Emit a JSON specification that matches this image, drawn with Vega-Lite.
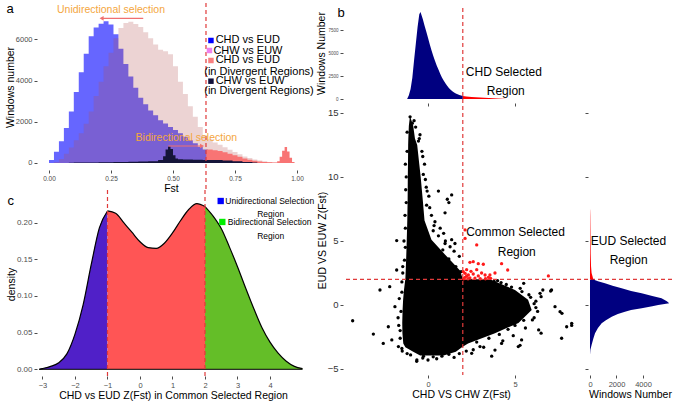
{
"$schema":"https://vega.github.io/schema/vega-lite/v6.json",
"background":"white",
"padding":{"left":5,"top":2,"right":0,"bottom":0},
"config":{"view":{"stroke":null},"font":"Liberation Sans",
 "axis":{"grid":false,"domain":false,"tickColor":"#4d4d4d","tickSize":3,"labelPadding":2,"labelFontSize":7.5,"labelColor":"#4d4d4d","titleFontSize":10.5,"titleFontWeight":"normal","titleColor":"#000000"},
 "text":{"font":"Liberation Sans"}},
"datasets":{
 "fstBlue":[{"f":0.0,"n":150},{"f":0.02,"n":550},{"f":0.04,"n":1050},{"f":0.06,"n":1700},{"f":0.08,"n":2500},{"f":0.10,"n":3450},{"f":0.12,"n":4400},{"f":0.14,"n":5300},{"f":0.16,"n":6150},{"f":0.18,"n":6580},{"f":0.20,"n":6760},{"f":0.22,"n":6880},{"f":0.24,"n":6720},{"f":0.26,"n":6250},{"f":0.28,"n":5550},{"f":0.30,"n":4800},{"f":0.32,"n":4200},{"f":0.34,"n":3650},{"f":0.36,"n":3170},{"f":0.38,"n":2850},{"f":0.40,"n":2550},{"f":0.42,"n":2320},{"f":0.44,"n":2080},{"f":0.46,"n":1920},{"f":0.48,"n":1750},{"f":0.50,"n":1600},{"f":0.52,"n":1440},{"f":0.54,"n":1280},{"f":0.56,"n":1120},{"f":0.58,"n":960},{"f":0.60,"n":790},{"f":0.62,"n":660},{"f":0.64,"n":0}],
 "fstPink":[{"f":0.02,"n":50},{"f":0.04,"n":200},{"f":0.06,"n":450},{"f":0.08,"n":750},{"f":0.10,"n":1100},{"f":0.12,"n":1450},{"f":0.14,"n":1900},{"f":0.16,"n":2500},{"f":0.18,"n":3250},{"f":0.20,"n":3950},{"f":0.22,"n":4700},{"f":0.24,"n":5350},{"f":0.26,"n":6050},{"f":0.28,"n":6550},{"f":0.30,"n":6800},{"f":0.32,"n":6860},{"f":0.34,"n":6750},{"f":0.36,"n":6600},{"f":0.38,"n":6350},{"f":0.40,"n":6050},{"f":0.42,"n":5750},{"f":0.44,"n":5500},{"f":0.46,"n":5420},{"f":0.48,"n":5280},{"f":0.50,"n":4700},{"f":0.52,"n":3950},{"f":0.54,"n":3350},{"f":0.56,"n":2750},{"f":0.58,"n":2250},{"f":0.60,"n":1750},{"f":0.62,"n":1350},{"f":0.64,"n":1150},{"f":0.66,"n":1000},{"f":0.68,"n":880},{"f":0.70,"n":760},{"f":0.72,"n":640},{"f":0.74,"n":530},{"f":0.76,"n":420},{"f":0.78,"n":320},{"f":0.80,"n":240},{"f":0.82,"n":170},{"f":0.84,"n":120},{"f":0.86,"n":80},{"f":0.88,"n":50},{"f":0.90,"n":20},{"f":0.92,"n":0}],
 "fstRed":[{"f":0.634,"n":650},{"f":0.66,"n":620},{"f":0.68,"n":580},{"f":0.70,"n":520},{"f":0.72,"n":450},{"f":0.74,"n":380},{"f":0.76,"n":300},{"f":0.78,"n":220},{"f":0.80,"n":160},{"f":0.82,"n":110},{"f":0.84,"n":75},{"f":0.86,"n":50},{"f":0.88,"n":35},{"f":0.90,"n":30},{"f":0.92,"n":80},{"f":0.93,"n":300},{"f":0.94,"n":600},{"f":0.95,"n":780},{"f":0.96,"n":560},{"f":0.97,"n":250},{"f":0.98,"n":50},{"f":0.99,"n":0}],
 "fstNavy":[{"f":0.08,"n":15},{"f":0.10,"n":20},{"f":0.14,"n":30},{"f":0.20,"n":40},{"f":0.26,"n":50},{"f":0.32,"n":60},{"f":0.36,"n":70},{"f":0.40,"n":90},{"f":0.44,"n":140},{"f":0.46,"n":330},{"f":0.47,"n":650},{"f":0.48,"n":800},{"f":0.49,"n":680},{"f":0.50,"n":380},{"f":0.51,"n":220},{"f":0.52,"n":180},{"f":0.54,"n":170},{"f":0.58,"n":160},{"f":0.62,"n":150},{"f":0.66,"n":140},{"f":0.70,"n":120},{"f":0.74,"n":90},{"f":0.78,"n":50},{"f":0.82,"n":20},{"f":0.84,"n":0}],
 "annA":[{"t":"Unidirectional selection","x":0.25,"y":7430},{"t":"Bidirectional selection","x":0.554,"y":1214}],
 "arrA":[{"x1":0.38,"x2":0.216,"y":7024},{"x1":0.481,"x2":0.612,"y":825}],
 "headA":[{"x":0.212,"y":7024,"d":"L"},{"x":0.617,"y":825,"d":"R"}],
 "sqA":[{"k":"a","x":0.653,"y":5947},{"k":"b","x":0.647,"y":5461},{"k":"c","x":0.653,"y":4976},{"k":"d","x":0.653,"y":3971}],
 "legA":[{"t":"CHD vs EUD","x":0.672,"y":5947},{"t":"CHW vs EUW","x":0.663,"y":5461},{"t":"CHD vs EUD","x":0.672,"y":4976},{"t":"(in Divergent Regions)","x":0.626,"y":4432},{"t":"CHW vs EUW","x":0.672,"y":3971},{"t":"(in Divergent Regions)","x":0.626,"y":3495}],
 "dens":[{"x":-3.1,"d":0,"g":"u"},{"x":-3.0,"d":0.001,"g":"u"},{"x":-2.75,"d":0.004,"g":"u"},{"x":-2.5,"d":0.009,"g":"u"},{"x":-2.25,"d":0.021,"g":"u"},{"x":-2.0,"d":0.048,"g":"u"},{"x":-1.75,"d":0.088,"g":"u"},{"x":-1.5,"d":0.143,"g":"u"},{"x":-1.25,"d":0.193,"g":"u"},{"x":-1.0,"d":0.216,"g":"u"},
  {"x":-1.0,"d":0.216,"g":"m"},{"x":-0.75,"d":0.213,"g":"m"},{"x":-0.5,"d":0.2,"g":"m"},{"x":-0.25,"d":0.187,"g":"m"},{"x":0,"d":0.174,"g":"m"},{"x":0.25,"d":0.166,"g":"m"},{"x":0.5,"d":0.165,"g":"m"},{"x":0.75,"d":0.172,"g":"m"},{"x":1.0,"d":0.186,"g":"m"},{"x":1.25,"d":0.203,"g":"m"},{"x":1.5,"d":0.218,"g":"m"},{"x":1.75,"d":0.226,"g":"m"},{"x":2.0,"d":0.222,"g":"m"},
  {"x":2.0,"d":0.222,"g":"b"},{"x":2.25,"d":0.209,"g":"b"},{"x":2.5,"d":0.192,"g":"b"},{"x":2.75,"d":0.167,"g":"b"},{"x":3.0,"d":0.14,"g":"b"},{"x":3.25,"d":0.111,"g":"b"},{"x":3.5,"d":0.083,"g":"b"},{"x":3.75,"d":0.057,"g":"b"},{"x":4.0,"d":0.037,"g":"b"},{"x":4.25,"d":0.022,"g":"b"},{"x":4.5,"d":0.011,"g":"b"},{"x":4.75,"d":0.004,"g":"b"},{"x":5.0,"d":0.001,"g":"b"}],
 "sqC":[{"k":"U","x":2.483,"y":0.2296},{"k":"B","x":2.533,"y":0.201}],
 "legC":[{"t":"Unidirectional Selection","x":2.625,"y":0.2296},{"t":"Bidirectional Selection","x":2.7,"y":0.201}],
 "legC2":[{"t":"Region","x":4.02,"y":0.2119},{"t":"Region","x":4.02,"y":0.1819}],
 "topH":[{"z":-1.2,"n":0,"g":"n"},{"z":-1.1,"n":400,"g":"n"},{"z":-1.0,"n":1100,"g":"n"},{"z":-0.9,"n":2300,"g":"n"},{"z":-0.8,"n":4200,"g":"n"},{"z":-0.7,"n":6000,"g":"n"},{"z":-0.6,"n":7800,"g":"n"},{"z":-0.5,"n":9200,"g":"n"},{"z":-0.43,"n":9450,"g":"n"},{"z":-0.3,"n":8700,"g":"n"},{"z":-0.2,"n":8000,"g":"n"},{"z":-0.1,"n":7350,"g":"n"},{"z":0.0,"n":6650,"g":"n"},{"z":0.1,"n":5950,"g":"n"},{"z":0.2,"n":5300,"g":"n"},{"z":0.3,"n":4700,"g":"n"},{"z":0.4,"n":4150,"g":"n"},{"z":0.5,"n":3650,"g":"n"},{"z":0.6,"n":3200,"g":"n"},{"z":0.7,"n":2750,"g":"n"},{"z":0.8,"n":2350,"g":"n"},{"z":0.9,"n":2000,"g":"n"},{"z":1.0,"n":1700,"g":"n"},{"z":1.1,"n":1430,"g":"n"},{"z":1.2,"n":1200,"g":"n"},{"z":1.3,"n":1000,"g":"n"},{"z":1.4,"n":840,"g":"n"},{"z":1.5,"n":710,"g":"n"},{"z":1.6,"n":600,"g":"n"},{"z":1.7,"n":510,"g":"n"},{"z":1.8,"n":440,"g":"n"},{"z":1.9,"n":380,"g":"n"},{"z":2.0,"n":330,"g":"n"},
  {"z":2.0,"n":330,"g":"r"},{"z":2.2,"n":280,"g":"r"},{"z":2.5,"n":230,"g":"r"},{"z":3.0,"n":160,"g":"r"},{"z":3.5,"n":100,"g":"r"},{"z":4.0,"n":50,"g":"r"},{"z":4.3,"n":20,"g":"r"},{"z":4.5,"n":0,"g":"r"}],
 "rightH":[{"z":-3.9,"n":0,"g":"n"},{"z":-3.5,"n":30,"g":"n"},{"z":-3.1,"n":125,"g":"n"},{"z":-2.6,"n":260,"g":"n"},{"z":-2.2,"n":380,"g":"n"},{"z":-1.8,"n":600,"g":"n"},{"z":-1.43,"n":880,"g":"n"},{"z":-1.2,"n":1200,"g":"n"},{"z":-0.91,"n":1640,"g":"n"},{"z":-0.7,"n":2100,"g":"n"},{"z":-0.52,"n":2640,"g":"n"},{"z":-0.4,"n":3100,"g":"n"},{"z":-0.26,"n":3900,"g":"n"},{"z":-0.1,"n":4700,"g":"n"},{"z":0.0,"n":5150,"g":"n"},{"z":0.13,"n":5980,"g":"n"},{"z":0.3,"n":5800,"g":"n"},{"z":0.52,"n":5400,"g":"n"},{"z":0.7,"n":4700,"g":"n"},{"z":0.91,"n":3900,"g":"n"},{"z":1.1,"n":3100,"g":"n"},{"z":1.3,"n":2390,"g":"n"},{"z":1.5,"n":1700,"g":"n"},{"z":1.69,"n":1130,"g":"n"},{"z":1.85,"n":600,"g":"n"},{"z":2.0,"n":250,"g":"n"},
  {"z":2.0,"n":250,"g":"r"},{"z":2.2,"n":200,"g":"r"},{"z":2.5,"n":120,"g":"r"},{"z":3.0,"n":80,"g":"r"},{"z":4.0,"n":50,"g":"r"},{"z":5.1,"n":40,"g":"r"},{"z":6.0,"n":30,"g":"r"},{"z":7.0,"n":20,"g":"r"},{"z":7.4,"n":10,"g":"r"},{"z":7.5,"n":0,"g":"r"}],
 "band":[{"y":14.7,"lo":-1.04,"hi":-1.02},{"y":14.0,"lo":-1.1,"hi":-0.85},{"y":13.0,"lo":-1.13,"hi":-0.75},{"y":12.5,"lo":-1.14,"hi":-0.62},{"y":11.0,"lo":-1.15,"hi":-0.5},{"y":10.0,"lo":-1.16,"hi":-0.42},{"y":8.2,"lo":-1.17,"hi":-0.3},{"y":6.6,"lo":-1.19,"hi":-0.2},{"y":5.1,"lo":-1.22,"hi":0.2},{"y":3.8,"lo":-1.25,"hi":1.07},{"y":2.7,"lo":-1.28,"hi":1.84},{"y":2.03,"lo":-1.3,"hi":2.0},{"y":2.0,"lo":-1.3,"hi":3.6},{"y":1.95,"lo":-1.31,"hi":3.66},{"y":1.17,"lo":-1.38,"hi":5.0},{"y":0.4,"lo":-1.43,"hi":5.75},{"y":-0.4,"lo":-1.46,"hi":5.96},{"y":-1.4,"lo":-1.48,"hi":5.2},{"y":-2.2,"lo":-1.47,"hi":3.85},{"y":-3.0,"lo":-1.42,"hi":2.3},{"y":-3.3,"lo":-1.3,"hi":1.95},{"y":-3.65,"lo":-0.85,"hi":1.6},{"y":-3.95,"lo":-0.45,"hi":0.9}],
 "pts":[{"x":-1.03,"y":14.7,"s":"k"},{"x":-0.8,"y":14.4,"s":"k"},{"x":-0.9,"y":14.2,"s":"k"},{"x":-0.71,"y":13.9,"s":"k"},{"x":-0.46,"y":13.3,"s":"k"},{"x":-0.5,"y":13.0,"s":"k"},{"x":-0.35,"y":12.0,"s":"k"},{"x":-1.2,"y":13.5,"s":"k"},{"x":-1.2,"y":12.0,"s":"k"},{"x":-0.2,"y":11.0,"s":"k"},{"x":-0.27,"y":10.2,"s":"k"},{"x":-1.25,"y":10.0,"s":"k"},{"x":-0.1,"y":9.2,"s":"k"},{"x":0.6,"y":8.9,"s":"k"},{"x":1.36,"y":8.6,"s":"k"},{"x":1.11,"y":8.26,"s":"k"},{"x":1.2,"y":8.0,"s":"k"},{"x":0.05,"y":8.5,"s":"k"},{"x":-0.08,"y":7.8,"s":"k"},{"x":-1.25,"y":8.0,"s":"k"},{"x":0.98,"y":7.2,"s":"k"},{"x":0.2,"y":7.0,"s":"k"},{"x":0.4,"y":6.5,"s":"k"},{"x":0.7,"y":6.0,"s":"k"},{"x":-1.3,"y":6.0,"s":"k"},{"x":0.3,"y":5.8,"s":"k"},{"x":0.9,"y":5.6,"s":"k"},{"x":1.36,"y":5.1,"s":"k"},{"x":-1.8,"y":5.03,"s":"k"},{"x":1.0,"y":5.0,"s":"k"},{"x":1.55,"y":4.8,"s":"k"},{"x":0.98,"y":4.8,"s":"k"},{"x":1.27,"y":4.55,"s":"k"},{"x":-1.3,"y":4.5,"s":"k"},{"x":1.5,"y":4.2,"s":"k"},{"x":1.8,"y":3.8,"s":"k"},{"x":-1.35,"y":3.5,"s":"k"},{"x":-1.8,"y":2.73,"s":"k"},{"x":-1.45,"y":2.5,"s":"k"},{"x":-2.2,"y":1.43,"s":"k"},{"x":-2.76,"y":1.17,"s":"k"},{"x":-1.5,"y":1.0,"s":"k"},{"x":-1.9,"y":-0.13,"s":"k"},{"x":-1.55,"y":-0.5,"s":"k"},{"x":-4.33,"y":-1.23,"s":"k"},{"x":-2.28,"y":-1.7,"s":"k"},{"x":-1.6,"y":-2.0,"s":"k"},{"x":-3.14,"y":-2.27,"s":"k"},{"x":-2.08,"y":-2.73,"s":"k"},{"x":-2.57,"y":-3.0,"s":"k"},{"x":-1.7,"y":-3.25,"s":"k"},{"x":-1.5,"y":-3.4,"s":"k"},{"x":-1.0,"y":-3.9,"s":"k"},{"x":-0.64,"y":-4.3,"s":"k"},{"x":-0.65,"y":-4.4,"s":"k"},{"x":-0.26,"y":-4.0,"s":"k"},{"x":0.0,"y":-4.3,"s":"k"},{"x":0.5,"y":-4.2,"s":"k"},{"x":1.5,"y":-4.1,"s":"k"},{"x":2.2,"y":-3.6,"s":"k"},{"x":2.51,"y":-3.78,"s":"k"},{"x":2.99,"y":-3.25,"s":"k"},{"x":3.2,"y":-3.3,"s":"k"},{"x":3.66,"y":-4.0,"s":"k"},{"x":3.85,"y":-3.52,"s":"k"},{"x":4.23,"y":-3.0,"s":"k"},{"x":4.3,"y":-2.8,"s":"k"},{"x":4.9,"y":-2.4,"s":"k"},{"x":5.19,"y":-3.25,"s":"k"},{"x":5.29,"y":-3.15,"s":"k"},{"x":5.38,"y":-2.73,"s":"k"},{"x":5.6,"y":-1.8,"s":"k"},{"x":6.36,"y":-1.95,"s":"k"},{"x":6.5,"y":-2.2,"s":"k"},{"x":6.1,"y":-1.0,"s":"k"},{"x":6.0,"y":-1.17,"s":"k"},{"x":6.3,"y":-0.5,"s":"k"},{"x":7.68,"y":-2.6,"s":"k"},{"x":7.97,"y":-1.7,"s":"k"},{"x":8.26,"y":-1.43,"s":"k"},{"x":8.26,"y":-1.6,"s":"k"},{"x":7.7,"y":-0.65,"s":"k"},{"x":7.59,"y":-0.52,"s":"k"},{"x":7.3,"y":-0.13,"s":"k"},{"x":6.2,"y":0.3,"s":"k"},{"x":6.5,"y":0.65,"s":"k"},{"x":5.8,"y":0.8,"s":"k"},{"x":6.44,"y":0.91,"s":"k"},{"x":7.05,"y":1.09,"s":"k"},{"x":6.6,"y":1.17,"s":"k"},{"x":7.1,"y":1.17,"s":"k"},{"x":5.3,"y":1.3,"s":"k"},{"x":4.5,"y":1.6,"s":"k"},{"x":5.5,"y":1.69,"s":"k"},{"x":4.0,"y":1.9,"s":"k"},
  {"x":-0.15,"y":9.8,"s":"k"},{"x":-0.05,"y":8.9,"s":"k"},{"x":0.1,"y":7.6,"s":"k"},{"x":-0.3,"y":11.6,"s":"k"},{"x":-0.55,"y":12.8,"s":"k"},{"x":0.35,"y":6.2,"s":"k"},{"x":0.6,"y":5.4,"s":"k"},{"x":0.85,"y":4.3,"s":"k"},{"x":1.2,"y":3.6,"s":"k"},{"x":1.6,"y":3.0,"s":"k"},{"x":1.9,"y":2.6,"s":"k"},
  {"x":-1.3,"y":11.0,"s":"k"},{"x":-1.28,"y":9.0,"s":"k"},{"x":-1.32,"y":7.0,"s":"k"},{"x":-1.38,"y":5.0,"s":"k"},{"x":-1.45,"y":3.0,"s":"k"},{"x":-1.5,"y":1.8,"s":"k"},{"x":-1.65,"y":0.5,"s":"k"},{"x":-1.72,"y":-1.0,"s":"k"},{"x":-1.68,"y":-1.6,"s":"k"},{"x":-1.6,"y":-2.6,"s":"k"},{"x":-1.48,"y":-3.6,"s":"k"},{"x":-1.2,"y":-3.8,"s":"k"},
  {"x":-0.3,"y":-4.15,"s":"k"},{"x":0.3,"y":-4.05,"s":"k"},{"x":0.8,"y":-4.0,"s":"k"},{"x":1.2,"y":-3.85,"s":"k"},{"x":1.8,"y":-3.8,"s":"k"},{"x":2.6,"y":-3.5,"s":"k"},
  {"x":2.8,"y":-2.9,"s":"k"},{"x":3.5,"y":-2.6,"s":"k"},{"x":4.1,"y":-2.3,"s":"k"},{"x":4.6,"y":-1.9,"s":"k"},{"x":5.0,"y":-1.6,"s":"k"},{"x":5.5,"y":-1.2,"s":"k"},{"x":6.2,"y":-0.2,"s":"k"},{"x":6.1,"y":0.1,"s":"k"},{"x":5.9,"y":0.6,"s":"k"},{"x":5.4,"y":1.05,"s":"k"},{"x":4.8,"y":1.4,"s":"k"},{"x":4.2,"y":1.75,"s":"k"},{"x":3.8,"y":1.85,"s":"k"},
  {"x":2.13,"y":5.86,"s":"r"},{"x":2.13,"y":5.2,"s":"r"},{"x":2.8,"y":4.69,"s":"r"},{"x":2.41,"y":3.33,"s":"r"},{"x":2.6,"y":3.38,"s":"r"},{"x":2.89,"y":3.23,"s":"r"},{"x":3.18,"y":3.18,"s":"r"},{"x":4.23,"y":3.23,"s":"r"},{"x":4.58,"y":2.73,"s":"r"},{"x":6.92,"y":2.27,"s":"r"},{"x":2.22,"y":2.76,"s":"r"},{"x":2.47,"y":2.63,"s":"r"},{"x":2.8,"y":2.76,"s":"r"},{"x":3.08,"y":2.5,"s":"r"},{"x":3.28,"y":2.34,"s":"r"},{"x":3.56,"y":2.34,"s":"r"},{"x":2.13,"y":2.47,"s":"r"},{"x":2.32,"y":2.34,"s":"r"},{"x":2.6,"y":2.42,"s":"r"},{"x":2.89,"y":2.27,"s":"r"},{"x":3.47,"y":2.16,"s":"r"},{"x":2.13,"y":2.16,"s":"r"},{"x":2.41,"y":2.11,"s":"r"},{"x":3.85,"y":2.5,"s":"r"},{"x":2.03,"y":2.6,"s":"r"},{"x":2.22,"y":2.27,"s":"r"},{"x":2.05,"y":2.05,"s":"r"},{"x":2.3,"y":2.05,"s":"r"},{"x":2.7,"y":2.1,"s":"r"},{"x":3.0,"y":2.05,"s":"r"},{"x":3.3,"y":2.05,"s":"r"},{"x":3.6,"y":2.08,"s":"r"}],
 "annTop":[{"t":"CHD Selected","x":4.36,"y":2968},{"t":"Region","x":4.47,"y":902}],
 "annSc":[{"t":"Common Selected","x":5.03,"y":5.7},{"t":"Region","x":5.1,"y":4.12}],
 "annRh":[{"t":"EUD Selected","x":2906,"y":5.0},{"t":"Region","x":2920,"y":3.52}]
},
"hconcat":[
 {"width":298,"height":373,
  "resolve":{"scale":{"x":"independent","y":"independent","color":"independent","shape":"independent"},"axis":{"x":"independent","y":"independent"}},
  "layer":[
   {"layer":[
    {"data":{"name":"fstBlue"},"mark":{"type":"area","interpolate":"step-after","color":"#6666ff"},
     "encoding":{"x":{"field":"f","type":"quantitative","scale":{"domain":[-0.0484,1.1532],"nice":false,"zero":false},"axis":{"orient":"bottom","offset":-206,"values":[0,0.25,0.5,0.75,1],"format":".2f","labelFontSize":6.5,"title":"Fst","titleX":134,"titlePadding":2}},
      "y":{"field":"n","type":"quantitative","stack":null,"scale":{"domain":[-10340,7767],"nice":false,"zero":false},"axis":{"orient":"left","values":[0,2000,4000,6000],"format":"d","title":"Windows number","titleY":84,"titlePadding":0}}}},
    {"data":{"name":"fstPink"},"mark":{"type":"area","interpolate":"step-after","color":"#b45050","opacity":0.25},
     "encoding":{"x":{"field":"f","type":"quantitative"},"y":{"field":"n","type":"quantitative","stack":null}}},
    {"data":{"name":"fstRed"},"mark":{"type":"area","interpolate":"step-after","color":"#f87474"},
     "encoding":{"x":{"field":"f","type":"quantitative"},"y":{"field":"n","type":"quantitative","stack":null}}},
    {"data":{"name":"fstNavy"},"mark":{"type":"area","interpolate":"step-after","color":"#15153a"},
     "encoding":{"x":{"field":"f","type":"quantitative"},"y":{"field":"n","type":"quantitative","stack":null}}},
    {"data":{"values":[{}]},"mark":{"type":"rule","color":"#e03a3a","strokeDash":[4,3],"strokeWidth":1.2},"encoding":{"x":{"datum":0.633},"y":{"datum":7767},"y2":{"datum":-1311}}},
    {"data":{"name":"arrA"},"mark":{"type":"rule","color":"#f07070","strokeWidth":1.2},"encoding":{"x":{"field":"x1","type":"quantitative"},"x2":{"field":"x2"},"y":{"field":"y","type":"quantitative"}}},
    {"data":{"name":"headA"},"mark":{"type":"point","filled":true,"color":"#f07070","size":22,"opacity":1},"encoding":{"x":{"field":"x","type":"quantitative"},"y":{"field":"y","type":"quantitative"},"shape":{"field":"d","type":"nominal","scale":{"domain":["L","R"],"range":["triangle-left","triangle-right"]},"legend":null}}},
    {"data":{"name":"annA"},"mark":{"type":"text","fontSize":10.5,"color":"#f4a640","align":"center","baseline":"middle"},"encoding":{"x":{"field":"x","type":"quantitative"},"y":{"field":"y","type":"quantitative"},"text":{"field":"t"}}},
    {"data":{"name":"sqA"},"mark":{"type":"point","shape":"square","filled":true,"size":30,"opacity":1},"encoding":{"x":{"field":"x","type":"quantitative"},"y":{"field":"y","type":"quantitative"},"color":{"field":"k","type":"nominal","scale":{"domain":["a","b","c","d"],"range":["#0000ff","#ee82ee","#f88080","#10103a"]},"legend":null}}},
    {"data":{"name":"legA"},"mark":{"type":"text","fontSize":11,"color":"#000000","align":"left","baseline":"middle"},"encoding":{"x":{"field":"x","type":"quantitative"},"y":{"field":"y","type":"quantitative"},"text":{"field":"t"}}},
    {"data":{"values":[{}]},"mark":{"type":"text","text":"a","fontSize":13,"color":"#000000","align":"center","baseline":"middle"},"encoding":{"x":{"datum":-0.157},"y":{"datum":7476}}}
   ]},
   {"layer":[
    {"data":{"name":"dens"},"mark":{"type":"area","interpolate":"monotone","opacity":1},
     "encoding":{"x":{"field":"x","type":"quantitative","scale":{"domain":[-3.169,6.0],"nice":false,"zero":false},"axis":{"orient":"bottom","values":[-3,-2,-1,0,1,2,3,4],"format":"d","title":"CHD vs EUD Z(Fst) in Common Selected Region","titleX":136,"titlePadding":2}},
      "y":{"field":"d","type":"quantitative","stack":null,"scale":{"domain":[-0.00914,0.4997],"nice":false,"zero":false},"axis":{"orient":"left","values":[0,0.05,0.1,0.15,0.2],"format":".2f","labelFontSize":8,"title":"density","titleY":281,"titlePadding":0}},
      "color":{"field":"g","type":"nominal","scale":{"domain":["u","m","b","U","B"],"range":["#5020c8","#ff5555","#64be28","#0000ff","#00ee00"]},"legend":null}}},
    {"data":{"name":"dens"},"mark":{"type":"line","interpolate":"monotone","color":"#000000","strokeWidth":1.2},"encoding":{"x":{"field":"x","type":"quantitative"},"y":{"field":"d","type":"quantitative"},"detail":{"field":"g"}}},
    {"data":{"values":[{"a":-3.1,"b":5.0}]},"mark":{"type":"rule","color":"#000000","strokeWidth":1},"encoding":{"x":{"field":"a","type":"quantitative"},"x2":{"field":"b"},"y":{"datum":0}}},
    {"data":{"values":[{"v":-1},{"v":2}]},"mark":{"type":"rule","color":"#e03a3a","strokeDash":[4,3],"strokeWidth":1.2},"encoding":{"x":{"field":"v","type":"quantitative"},"y":{"datum":0.2445},"y2":{"datum":-0.0114}}},
    {"data":{"name":"sqC"},"mark":{"type":"point","shape":"square","filled":true,"size":40,"opacity":1},"encoding":{"x":{"field":"x","type":"quantitative"},"y":{"field":"y","type":"quantitative"},"color":{"field":"k","type":"nominal","legend":null}}},
    {"data":{"name":"legC"},"mark":{"type":"text","fontSize":8.5,"color":"#000000","align":"left","baseline":"middle"},"encoding":{"x":{"field":"x","type":"quantitative"},"y":{"field":"y","type":"quantitative"},"text":{"field":"t"}}},
    {"data":{"name":"legC2"},"mark":{"type":"text","fontSize":8.5,"color":"#000000","align":"center","baseline":"middle"},"encoding":{"x":{"field":"x","type":"quantitative"},"y":{"field":"y","type":"quantitative"},"text":{"field":"t"}}},
    {"data":{"values":[{}]},"mark":{"type":"text","text":"c","fontSize":13,"color":"#000000","align":"center","baseline":"middle"},"encoding":{"x":{"datum":-3.98},"y":{"datum":0.2296}}}
   ]}
  ]},
 {"width":329,"height":372,
  "resolve":{"scale":{"x":"independent","y":"independent","color":"independent"},"axis":{"x":"independent","y":"independent"}},
  "layer":[
   {"layer":[
    {"data":{"name":"topH"},"mark":{"type":"area"},
     "encoding":{"x":{"field":"z","type":"quantitative","scale":{"domain":[-4.885,14.024],"nice":false,"zero":false},"axis":{"orient":"bottom","offset":-272,"values":[0,5],"labels":false,"title":null}},
      "y":{"field":"n","type":"quantitative","stack":null,"scale":{"domain":[-30000,10435],"nice":false,"zero":false},"axis":{"orient":"left","values":[0,2500,5000,7500],"format":"d","labelFontSize":4.5,"title":"Windows Number","titleY":50,"titlePadding":1}},
      "color":{"field":"g","type":"nominal","scale":{"domain":["n","r"],"range":["#000080","#ff0000"]},"legend":null}}},
    {"data":{"name":"annTop"},"mark":{"type":"text","fontSize":12,"color":"#000000","align":"center","baseline":"middle"},"encoding":{"x":{"field":"x","type":"quantitative"},"y":{"field":"y","type":"quantitative"},"text":{"field":"t"}}},
    {"data":{"values":[{}]},"mark":{"type":"text","text":"b","fontSize":13,"color":"#000000","align":"center","baseline":"middle"},"encoding":{"x":{"datum":-5.0},"y":{"datum":9348}}}
   ]},
   {"layer":[
    {"data":{"name":"band"},"mark":{"type":"area","orient":"horizontal","color":"#000000"},
     "encoding":{"y":{"field":"y","type":"quantitative","scale":{"domain":[-5.47,23.59],"nice":false,"zero":false},"axis":{"orient":"left","values":[-5,0,5,10,15],"labelFontSize":9.5,"labelColor":"#333333","title":"EUD VS EUW Z(Fst)","titleY":237,"titlePadding":0}},
      "x":{"field":"lo","type":"quantitative","scale":{"domain":[-4.885,14.024],"nice":false,"zero":false},"axis":{"orient":"bottom","values":[0,5],"title":"CHD VS CHW Z(Fst)","titleX":118,"titlePadding":2}},
      "x2":{"field":"hi"}}},
    {"data":{"name":"pts"},"mark":{"type":"circle","size":11,"opacity":1},"encoding":{"x":{"field":"x","type":"quantitative"},"y":{"field":"y","type":"quantitative"},"color":{"field":"s","type":"nominal","scale":{"domain":["k","r"],"range":["#000000","#ff1a1a"]},"legend":null}}},
    {"data":{"values":[{}]},"mark":{"type":"rule","color":"#e03a3a","strokeDash":[4,3],"strokeWidth":1.2},"encoding":{"x":{"datum":2},"y":{"datum":23.2},"y2":{"datum":-5.47}}},
    {"data":{"values":[{}]},"mark":{"type":"rule","color":"#e03a3a","strokeDash":[4,3],"strokeWidth":1.2},"encoding":{"y":{"datum":2}}},
    {"data":{"name":"annSc"},"mark":{"type":"text","fontSize":12,"color":"#000000","align":"center","baseline":"middle"},"encoding":{"x":{"field":"x","type":"quantitative"},"y":{"field":"y","type":"quantitative"},"text":{"field":"t"}}}
   ]},
   {"layer":[
    {"data":{"name":"rightH"},"mark":{"type":"area","orient":"horizontal"},
     "encoding":{"y":{"field":"z","type":"quantitative","scale":{"domain":[-5.47,23.59],"nice":false,"zero":false},"axis":{"orient":"left","offset":-245,"values":[-5,0,5,10,15],"labels":false,"title":null}},
      "x":{"field":"n","type":"quantitative","stack":null,"scale":{"domain":[-18642,6189],"nice":false,"zero":false},"axis":{"orient":"bottom","values":[0,2000,4000],"format":"d","title":"Windows Number","titleX":287,"titlePadding":2}},
      "color":{"field":"g","type":"nominal","scale":{"domain":["n","r"],"range":["#000080","#ff0000"]},"legend":null}}},
    {"data":{"name":"annRh"},"mark":{"type":"text","fontSize":12,"color":"#000000","align":"center","baseline":"middle"},"encoding":{"x":{"field":"x","type":"quantitative"},"y":{"field":"y","type":"quantitative"},"text":{"field":"t"}}}
   ]}
  ]}
],
"spacing":8,"bounds":"flush"
}
